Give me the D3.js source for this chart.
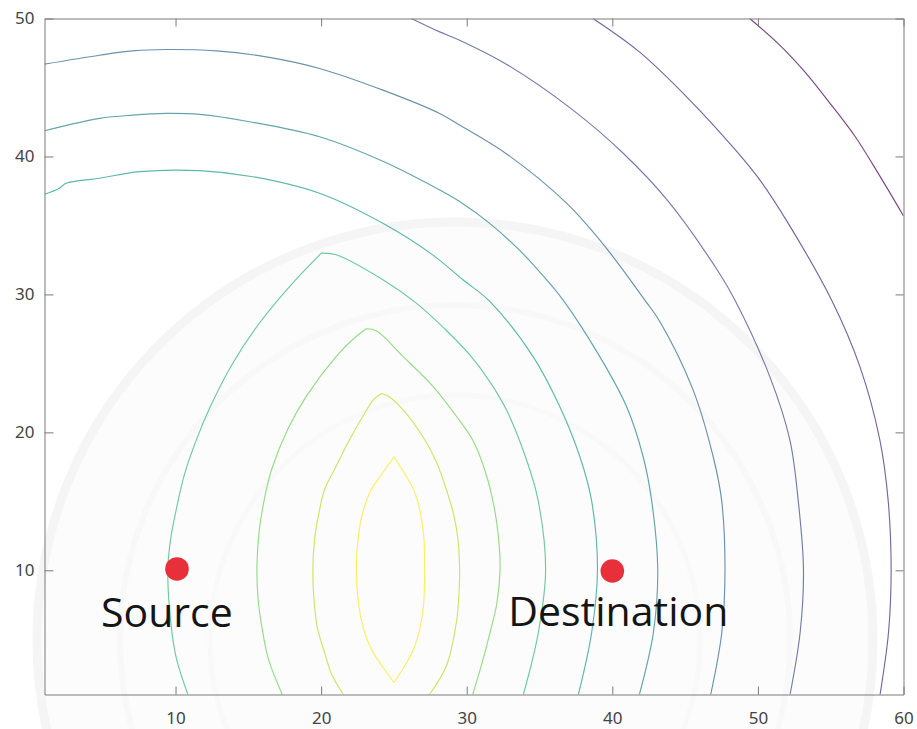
<!DOCTYPE html>
<html>
<head>
<meta charset="utf-8">
<script src="https://cdn.jsdelivr.net/npm/d3@7/dist/d3.min.js"></script>
<style>
  html, body { margin: 0; padding: 0; background: #ffffff; }
  svg { display: block; }
  .tick text { font-family: "Noto Sans", "Open Sans", sans-serif; font-size: 17px; fill: #444; }
  .node-label { font-family: "Open Sans", "Noto Sans", sans-serif; font-size: 41px; fill: #151515; }
</style>
</head>
<body>
<div id="chart"></div>
<script>
// Axis ticks
const xTickValues = [10, 20, 30, 40, 50, 60];
const yTickValues = [10, 20, 30, 40, 50];

// Marked nodes
const nodeNames = ["Source", "Destination"];
const nodeX = [10.1, 40.0];
const nodeY = [10.1, 9.95];

// Contour lines, innermost (highest level) first, as [x, y] vertices
const level1 = [[25.00,18.23],[24.15,16.95],[23.45,15.86],[22.92,14.41],[22.57,12.61],[22.42,10.07],[22.57,7.54],[22.92,5.73],[23.45,4.28],[24.15,3.12],[25.00,1.87],[25.77,3.12],[26.35,4.28],[26.77,5.73],[27.04,7.54],[27.11,10.07],[27.04,12.61],[26.77,14.41],[26.35,15.86],[25.77,16.95],[25.00,18.23]];
const level2 = [[21.53,1.0],[20.72,2.47],[20.24,4.04],[19.76,5.73],[19.55,7.42],[19.43,9.83],[19.55,12.24],[19.83,14.05],[20.24,15.86],[20.92,17.31],[21.96,19.48],[22.87,21.17],[23.60,22.38],[24.13,22.81],[24.57,22.66],[25.62,21.65],[27.11,19.48],[27.93,17.82],[28.60,15.86],[29.10,14.05],[29.40,12.24],[29.51,9.83],[29.45,8.0],[29.29,6.22],[28.60,3.07],[27.44,1.0]];
const level3 = [[17.33,1.0],[16.38,3.56],[15.92,5.97],[15.67,7.90],[15.59,10.31],[15.76,12.97],[16.19,15.62],[16.60,17.31],[17.70,20.20],[18.98,22.61],[21.04,25.51],[22.30,26.86],[23.10,27.51],[23.79,27.37],[25.62,25.51],[27.68,23.34],[29.29,21.17],[30.43,19.41],[31.23,17.31],[31.78,15.14],[32.16,12.61],[32.29,10.07],[32.06,7.54],[31.60,5.49],[31.03,3.20],[30.41,1.0]];
const level4 = [[10.85,1.0],[10.07,3.56],[9.70,5.97],[9.47,10.07],[9.66,12.24],[10.05,14.41],[10.60,16.90],[11.35,19.24],[12.40,21.89],[13.94,25.03],[15.77,27.93],[17.83,30.57],[20.01,32.99],[21.04,32.87],[24.24,31.06],[26.54,29.37],[28.48,27.51],[30.20,25.63],[31.58,23.68],[32.72,21.65],[34.10,18.03],[34.89,15.14],[35.42,10.07],[34.92,5.49],[33.89,1.0]];
const level5 = [[1.0,37.26],[2.03,37.70],[2.49,38.06],[4.78,38.42],[7.53,38.90],[11.65,38.97],[15.31,38.53],[19.89,37.33],[24.24,35.15],[27.68,32.85],[29.74,31.06],[31.58,29.50],[34.55,25.51],[36.38,21.89],[37.76,18.27],[38.56,15.14],[38.98,10.07],[38.58,5.49],[37.67,1.0]];
const level6 = [[1.0,41.86],[4.78,42.76],[7.07,43.00],[9.36,43.12],[11.65,43.05],[15.08,42.52],[19.89,41.43],[24.24,39.65],[28.14,37.57],[29.51,36.73],[31.58,35.15],[33.60,33.23],[35.01,31.64],[36.61,29.61],[39.13,25.51],[40.97,21.89],[42.11,18.27],[42.69,15.14],[43.12,10.07],[42.82,5.49],[41.86,1.0]];
const level7 = [[1.0,46.69],[4.78,47.34],[7.07,47.65],[9.36,47.75],[12.80,47.65],[16.23,47.22],[19.89,46.38],[24.24,44.81],[28.14,43.12],[29.51,42.28],[32.72,40.20],[36.84,36.63],[39.41,33.59],[42.22,29.61],[43.26,28.04],[45.54,23.10],[46.92,18.27],[47.50,15.14],[47.74,10.07],[47.52,5.49],[46.76,1.0]];
const level8 = [[26.19,50.0],[28.14,49.03],[29.51,48.43],[32.72,46.69],[37.30,43.36],[40.73,40.25],[43.82,36.78],[47.33,31.57],[48.41,29.61],[50.81,24.06],[52.19,19.48],[52.76,15.14],[53.13,10.07],[52.90,5.49],[52.21,1.0]];
const level9 = [[38.67,50.0],[41.88,47.56],[45.32,44.09],[48.50,40.42],[50.13,38.30],[52.02,35.26],[55.05,29.61],[57.00,24.78],[58.37,19.48],[58.94,15.14],[59.15,10.07],[58.97,5.49],[58.39,1.0]];
const level10 = [[49.44,50.0],[51.50,48.07],[53.18,46.18],[54.94,43.87],[56.70,41.41],[58.37,38.59],[60.0,35.69]];

const contourLines = [level1, level2, level3, level4, level5, level6, level7, level8, level9, level10];

const width = 917, height = 729;
const plot = { left: 44.5, right: 903.5, top: 18.5, bottom: 694.5 };

const x = d3.scaleLinear().domain([1, 60]).range([plot.left, plot.right]);
const y = d3.scaleLinear().domain([1, 50]).range([plot.bottom, plot.top]);
const color = d3.scaleSequential(d3.interpolateViridis).domain([contourLines.length - 1, 0]);

const svg = d3.select("#chart").append("svg")
  .attr("width", width).attr("height", height)
  .attr("viewBox", `0 0 ${width} ${height}`);

// Faint emblem sitting behind the plot
const emblem = svg.append("g").attr("class", "emblem");
emblem.append("circle").attr("cx", 455).attr("cy", 640).attr("r", 418)
  .attr("fill", "#fcfcfc").attr("stroke", "#f5f5f5").attr("stroke-width", 9);
emblem.append("circle").attr("cx", 455).attr("cy", 640).attr("r", 335)
  .attr("fill", "none").attr("stroke", "#f8f8f8").attr("stroke-width", 6);
emblem.append("circle").attr("cx", 455).attr("cy", 640).attr("r", 245)
  .attr("fill", "none").attr("stroke", "#f9f9f9").attr("stroke-width", 5);

svg.append("defs").append("clipPath").attr("id", "plot-clip")
  .append("rect")
  .attr("x", plot.left).attr("y", plot.top)
  .attr("width", plot.right - plot.left).attr("height", plot.bottom - plot.top);

// Contour lines: smooth runs between vertices, kept sharp where the line turns hard
const line = d3.line().x(d => d[0]).y(d => d[1]).curve(d3.curveCatmullRom.alpha(0.5));
function contourPath(pts) {
  const p = pts.map(d => [x(d[0]), y(d[1])]);
  const runs = [];
  let run = [p[0]];
  for (let i = 1; i < p.length; i++) {
    run.push(p[i]);
    if (i < p.length - 1) {
      const a1 = Math.atan2(p[i][1] - p[i - 1][1], p[i][0] - p[i - 1][0]);
      const a2 = Math.atan2(p[i + 1][1] - p[i][1], p[i + 1][0] - p[i][0]);
      let turn = Math.abs(a2 - a1);
      if (turn > Math.PI) turn = 2 * Math.PI - turn;
      if (turn > 0.6) { runs.push(run); run = [p[i]]; }
    }
  }
  runs.push(run);
  return runs.map(r => line(r)).join("");
}
svg.append("g").attr("clip-path", "url(#plot-clip)")
  .selectAll("path")
  .data(contourLines)
  .join("path")
  .attr("d", contourPath)
  .attr("fill", "none")
  .attr("stroke", (d, i) => color(i))
  .attr("stroke-opacity", 0.72)
  .attr("stroke-width", 1.15)
  .attr("stroke-linejoin", "round");

// Axes on all four sides, ticks pointing inward
const axisColor = "#7a7a7a";
function styleAxis(g) {
  g.select(".domain").attr("stroke", axisColor);
  g.selectAll(".tick line").attr("stroke", axisColor);
}
svg.append("g").attr("transform", `translate(0,${plot.bottom})`)
  .call(d3.axisBottom(x).tickValues(xTickValues).tickSize(-8).tickSizeOuter(0).tickPadding(17))
  .call(styleAxis);
svg.append("g").attr("transform", `translate(${plot.left},0)`)
  .call(d3.axisLeft(y).tickValues(yTickValues).tickSize(-9).tickSizeOuter(0).tickPadding(10))
  .call(styleAxis);
svg.append("g").attr("transform", `translate(0,${plot.top})`)
  .call(d3.axisTop(x).tickValues(xTickValues).tickSize(-8).tickSizeOuter(0).tickFormat(""))
  .call(styleAxis);
svg.append("g").attr("transform", `translate(${plot.right},0)`)
  .call(d3.axisRight(y).tickValues(yTickValues).tickSize(-8).tickSizeOuter(0).tickFormat(""))
  .call(styleAxis);
svg.selectAll(".tick text").attr("font-family", null).attr("font-size", null);

// Source and destination markers with their names
const nodes = nodeNames.map((name, i) => ({ name, x: nodeX[i], y: nodeY[i] }));
const labelOffset = { Source: [-76, 58], Destination: [-104, 55] };
svg.append("g").selectAll("circle")
  .data(nodes)
  .join("circle")
  .attr("cx", d => x(d.x))
  .attr("cy", d => y(d.y))
  .attr("r", 11.8)
  .attr("fill", "#e8303a");
svg.append("g").selectAll("text")
  .data(nodes)
  .join("text")
  .attr("class", "node-label")
  .attr("x", d => x(d.x) + labelOffset[d.name][0])
  .attr("y", d => y(d.y) + labelOffset[d.name][1])
  .text(d => d.name);
</script>
</body>
</html>
